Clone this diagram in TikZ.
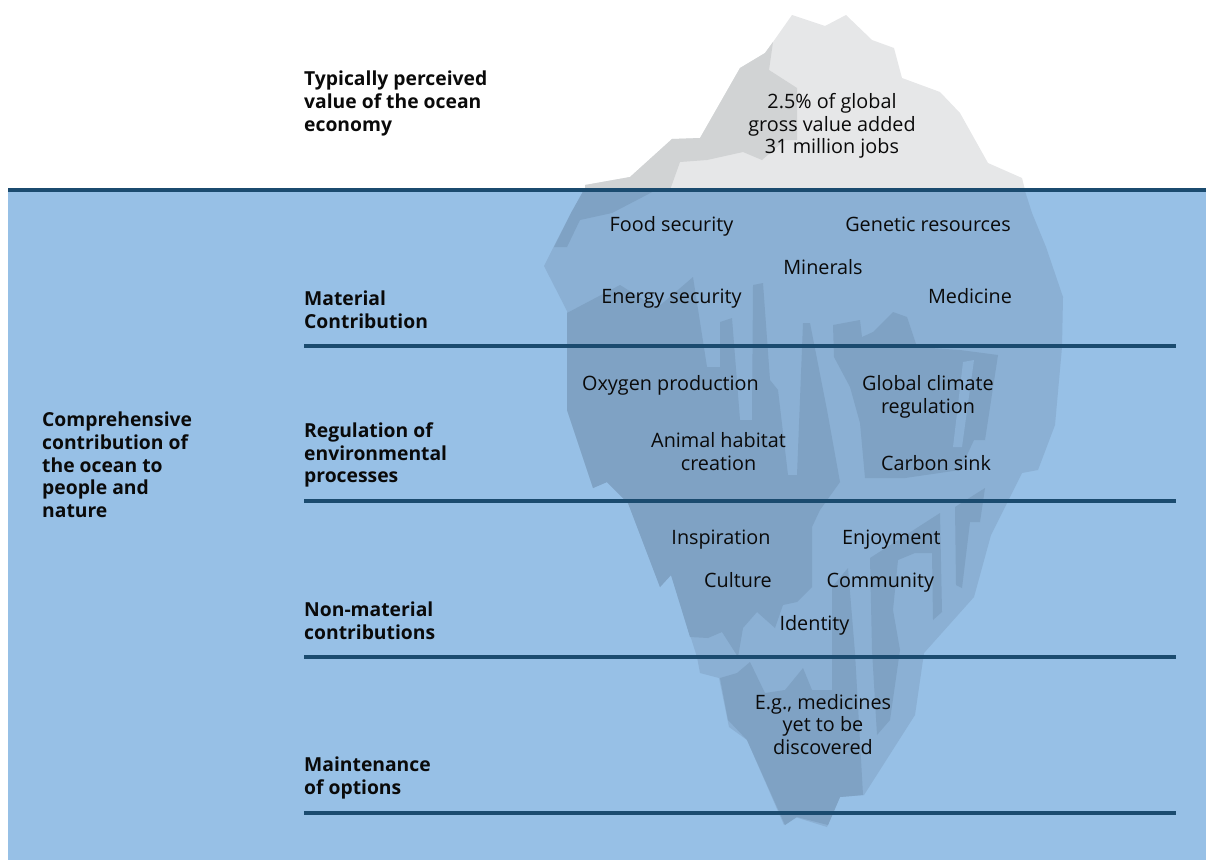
\documentclass[tikz,border=0pt]{standalone}
\usepackage{fontspec}
\setmainfont{Open Sans}
\definecolor{water}{HTML}{97C0E6}
\definecolor{bergA}{HTML}{8BB0D4}
\definecolor{bergB}{HTML}{7FA2C4}
\definecolor{snowA}{HTML}{E6E7E8}
\definecolor{snowB}{HTML}{D1D3D4}
\definecolor{lineblue}{HTML}{1B4B6F}
\definecolor{txt}{HTML}{0A0A0A}
\tikzset{
  body/.style={font=\fontsize{19.8}{22.7}\selectfont, align=center, inner sep=0pt, text=txt},
  one/.style={body, text height=14.3pt, text depth=4.4pt},
  lab/.style={font=\bfseries\fontsize{19.3}{22.7}\selectfont, align=left, anchor=west, inner sep=0pt, text=txt},
  sepline/.style={draw=lineblue, line width=4pt},
}
\begin{document}
\begin{tikzpicture}[x=1pt,y=-1pt]
\useasboundingbox (0,0) rectangle (1206,860);
% water
\fill[water] (8,188) rectangle (1206,860);
% above-water iceberg
\fill[snowA] (585,190) -- (585,185) -- (630,177) -- (672,139) -- (700,138) -- (740,68) -- (765,53) -- (773,42) -- (792,15) -- (825,26) -- (846,15) -- (872,40) -- (894,48) -- (902,78) -- (940,92) -- (960,113) -- (988,163) -- (1022,178) -- (1025,190) -- cycle;
\fill[snowB] (773,42) -- (765,53) -- (740,68) -- (700,138) -- (672,139) -- (630,177) -- (585,185) -- (585,190) -- (670,190) -- (680,162) -- (707,160) -- (743,152) -- (762,160) -- (785,140) -- (797,140) -- (797,88) -- (769,70) -- cycle;
% underwater iceberg
\fill[bergA] (585,188) -- (571,213) -- (554,246) -- (544,266) -- (567,311) -- (567,410) -- (593,488) -- (607,482) -- (628,503) -- (660,587) -- (671,575) -- (690,635) -- (697,657) -- (700,673) -- (719,678) -- (729,727) -- (747,740) -- (784,825) -- (795,817) -- (827,827) -- (840,797) -- (864,795) -- (915,715) -- (924,653) -- (974,597) -- (991,535) -- (1022,473) -- (1038,470) -- (1055,425) -- (1062,347) -- (1063,297) -- (1046,247) -- (1032,213) -- (1024,188) -- cycle;
% darker facets
\fill[bergB] (585,188) -- (660,188) -- (612,213) -- (580,220) -- (567,247) -- (554,247) -- (571,213) -- cycle;
\fill[bergB] (567,313) -- (620,285) -- (657,308) -- (693,277) -- (707,367) -- (720,367) -- (720,322) -- (732,318) -- (740,420) -- (752,420) -- (753,285) -- (763,283) -- (770,380) -- (778,390) -- (788,475) -- (797,475) -- (803,323) -- (810,323) -- (827,410) -- (840,482) -- (820,510) -- (812,527) -- (812,587) -- (797,602) -- (783,605) -- (775,628) -- (757,612) -- (743,628) -- (738,657) -- (722,632) -- (708,638) -- (690,637) -- (671,575) -- (660,587) -- (628,503) -- (607,482) -- (593,488) -- (567,410) -- cycle;
\fill[bergB] (833,325) -- (860,320) -- (862,337) -- (873,332) -- (893,312) -- (907,317) -- (917,347) -- (960,350) -- (998,355) -- (985,440) -- (974,440) -- (960,470) -- (905,478) -- (865,478) -- (860,423) -- (850,387) -- (834,357) -- cycle;
\fill[bergA] (963,362) -- (974,360) -- (962,447) -- (953,447) -- cycle;
\fill[bergB] (720,678) -- (737,673) -- (750,662) -- (765,693) -- (785,690) -- (803,668) -- (812,690) -- (832,690) -- (832,587) -- (848,568) -- (855,653) -- (863,795) -- (840,797) -- (828,825) -- (797,817) -- (785,825) -- (747,740) -- (728,720) -- cycle;
\fill[bergB] (870,558) -- (940,513) -- (942,612) -- (933,620) -- (932,553) -- (915,553) -- (898,560) -- (893,610) -- (900,650) -- (890,720) -- (877,735) -- (872,650) -- cycle;
\fill[bergB] (955,507) -- (985,488) -- (980,522) -- (970,522) -- (962,588) -- (956,585) -- cycle;
% separator lines
\draw[sepline] (8,190) -- (1206,190);
\draw[sepline] (304,346) -- (1176,346);
\draw[sepline] (304,500.7) -- (1176,500.7);
\draw[sepline] (304,656.7) -- (1176,656.7);
\draw[sepline] (304,812.7) -- (1176,812.7);
% left labels
\node[lab] (typ) at (304,103.3) {Typically perceived\\value of the ocean\\economy};
\node[lab] (mat) at (304,310) {Material\\Contribution};
\node[lab] (reg) at (304,455) {Regulation of\\environmental\\processes};
\node[lab] (non) at (304,621) {Non-material\\contributions};
\node[lab] (mai) at (304,777.8) {Maintenance\\of options};
\node[lab] (com) at (42,465) {Comprehensive\\contribution of\\the ocean to\\people and\\nature};
% iceberg texts
\node[body] (gva) at (832,126) {2.5\% of global\\gross value added\\31 million jobs};
\node[one] (food) at (671.5,227) {Food security};
\node[one] (gen) at (928,227) {Genetic resources};
\node[one] (min) at (823,270) {Minerals};
\node[one] (ene) at (671.5,299) {Energy security};
\node[one] (med) at (970,299) {Medicine};
\node[one] (oxy) at (670.5,386) {Oxygen production};
\node[body] (glo) at (928,396.6) {Global climate\\regulation};
\node[body] (ani) at (718.5,451.6) {Animal habitat\\creation};
\node[one] (car) at (936,466) {Carbon sink};
\node[one] (ins) at (721,540) {Inspiration};
\node[one] (enj) at (891.3,540) {Enjoyment};
\node[one] (cul) at (738,582.5) {Culture};
\node[one] (cmm) at (880.3,582.5) {Community};
\node[one] (ide) at (814.5,626) {Identity};
\node[body] (egm) at (823,724.5) {E.g., medicines\\yet to be\\discovered};
\end{tikzpicture}
\end{document}
